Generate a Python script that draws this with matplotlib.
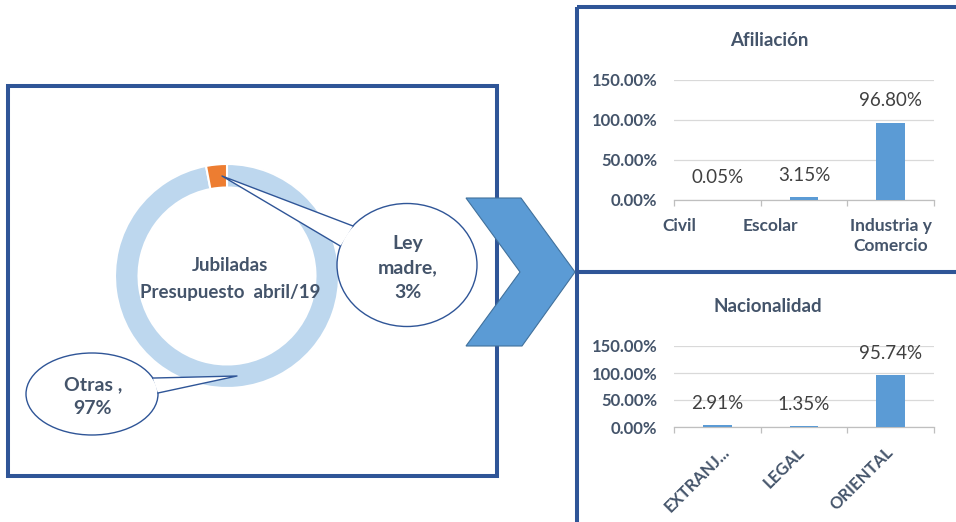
import matplotlib
matplotlib.use('Agg')
import matplotlib.pyplot as plt
from matplotlib.patches import Rectangle, Ellipse, Polygon
from matplotlib.transforms import ScaledTranslation
import numpy as np

plt.rcParams['font.family'] = ['Lato', 'DejaVu Sans']

# ── Data ──────────────────────────────────────────────────────────────────────
donut_title  = 'Jubiladas\nPresupuesto  abril/19'
donut_names  = ['Otras ,', 'Ley\nmadre,']
donut_values = [97, 3]

afil_title = 'Afiliación'
afil_cats  = ['Civil', 'Escolar', 'Industria y\nComercio']
afil_vals  = [0.05, 3.15, 96.80]

nac_title = 'Nacionalidad'
nac_cats  = ['EXTRANJ...', 'LEGAL', 'ORIENTAL']
nac_vals  = [2.91, 1.35, 95.74]

y_ticks = [0, 50, 100, 150]

# ── Style ─────────────────────────────────────────────────────────────────────
W, H = 956, 522
BORDER = '#2F5597'
TXT    = '#44546A'
LABEL  = '#404040'
BAR    = '#5B9BD5'
DONUT_COLORS = ['#BDD7EE', '#ED7D31']


def frac(x, y, w, h):
    # pixel box (top-left origin) -> figure fraction rect
    return [x / W, 1 - (y + h) / H, w / W, h / H]


fig = plt.figure(figsize=(W / 100, H / 100), dpi=100)
fig.patch.set_facecolor('white')

# ── Donut ─────────────────────────────────────────────────────────────────────
dax = fig.add_axes(frac(115, 164, 224, 224))
dax.pie(donut_values, colors=DONUT_COLORS, startangle=90, counterclock=False,
        radius=1, wedgeprops=dict(width=0.21, edgecolor='white', linewidth=1.5))
dax.set_xlim(-1, 1)
dax.set_ylim(-1, 1)
dax.set_aspect('equal')
dax.axis('off')

# ── Bar panels ────────────────────────────────────────────────────────────────
def bar_panel(rect, cats, vals, shifts, rotate):
    ax = fig.add_axes(rect)
    ax.set_facecolor('none')
    x = np.arange(len(cats))
    ax.bar(x, vals, width=0.33, color=BAR, zorder=3)
    ax.set_xlim(-0.5, len(cats) - 0.5)
    ax.set_ylim(0, 150)
    ax.set_yticks(y_ticks, [f'{t:.2f}%' for t in y_ticks])
    ax.yaxis.grid(True, color='#D9D9D9', linewidth=0.9)
    ax.set_axisbelow(True)
    for s in ['top', 'right', 'left']:
        ax.spines[s].set_visible(False)
    ax.spines['bottom'].set_color('#BFBFBF')
    ax.spines['bottom'].set_linewidth(0.9)
    ax.tick_params(axis='y', length=0, pad=12, labelsize=12, labelcolor=TXT)
    ax.set_xticks(x, cats)
    ax.set_xticks(np.arange(len(cats) + 1) - 0.5, minor=True)
    if rotate:
        ax.tick_params(axis='x', which='major', length=0, pad=12,
                       labelsize=12, labelcolor=TXT, labelrotation=45)
        for lbl in ax.get_xticklabels():
            lbl.set_ha('right')
    else:
        ax.tick_params(axis='x', which='major', length=0, pad=13,
                       labelsize=12.5, labelcolor=TXT)
    ax.tick_params(axis='x', which='minor', length=4, width=0.9, color='#BFBFBF')
    for lbl, dx in zip(ax.get_xticklabels(), shifts):
        lbl.set_linespacing(1.3)
        lbl.set_transform(lbl.get_transform() + ScaledTranslation(dx / 100, 0, fig.dpi_scale_trans))
    for lbl in ax.get_xticklabels() + ax.get_yticklabels():
        lbl.set_fontweight('bold')
    for xi, v in zip(x, vals):
        ax.annotate(f'{v:.2f}%', (xi, v), xytext=(0, 16), textcoords='offset points',
                    ha='center', va='center', fontsize=13.5, color=LABEL)
    return ax


bar_panel(frac(674, 80, 260, 120), afil_cats, afil_vals, [-38, -34, 0], False)
bar_panel(frac(674, 346, 260, 81), nac_cats, nac_vals, [15, 4, 6], True)

# ── Overlay: boxes, arrow, callouts, texts ───────────────────────────────────
ov = fig.add_axes([0, 0, 1, 1], zorder=5)
ov.set_xlim(0, W)
ov.set_ylim(H, 0)
ov.axis('off')
ov.set_facecolor('none')

ov.add_patch(Rectangle((8, 86), 489, 390, fill=False, edgecolor=BORDER, linewidth=2.9, zorder=1))
ov.add_patch(Rectangle((577, 7), 400, 265, fill=False, edgecolor=BORDER, linewidth=2.9, zorder=1))
ov.add_patch(Rectangle((577, 272), 400, 270, fill=False, edgecolor=BORDER, linewidth=2.9, zorder=1))

chevron = [(466, 198), (521, 198), (575, 272), (522, 346), (466, 346), (520, 272)]
ov.add_patch(Polygon(chevron, closed=True, facecolor=BAR, edgecolor='#41719C', linewidth=0.8, zorder=2))


def callout(cx, cy, w, h, a1, a2, tip, text):
    a, b = w / 2, h / 2
    p1 = (cx + a * np.cos(np.radians(a1)), cy + b * np.sin(np.radians(a1)))
    p2 = (cx + a * np.cos(np.radians(a2)), cy + b * np.sin(np.radians(a2)))
    tri = [p1, tip, p2]
    ov.add_patch(Ellipse((cx, cy), w, h, facecolor='white', edgecolor=BORDER, linewidth=1.0, zorder=3))
    ov.add_patch(Polygon(tri, closed=True, facecolor='white', edgecolor='none', zorder=4))
    ov.plot([p1[0], tip[0], p2[0]], [p1[1], tip[1], p2[1]], color=BORDER, linewidth=1.0, zorder=5)
    ov.text(cx + 1, cy + 3, text, ha='center', va='center', fontsize=14, fontweight='bold',
            color=TXT, linespacing=1.5, zorder=6)


callout(407, 265, 140, 123, 219.4, 197.9, (222, 176),
        f'{donut_names[1]}\n{donut_values[1]}%')
callout(92, 394, 132, 82, -22.9, -1.4, (237, 376),
        f'{donut_names[0]}\n{donut_values[0]}%')

ov.text(230, 279, donut_title, ha='center', va='center', fontsize=13.5, fontweight='bold',
        color=TXT, linespacing=1.65)
ov.text(769, 40, afil_title, ha='center', va='center', fontsize=13.5, fontweight='bold', color=TXT)
ov.text(768, 306, nac_title, ha='center', va='center', fontsize=13.5, fontweight='bold', color=TXT)

fig.savefig('out.png', dpi=100, facecolor='white')
